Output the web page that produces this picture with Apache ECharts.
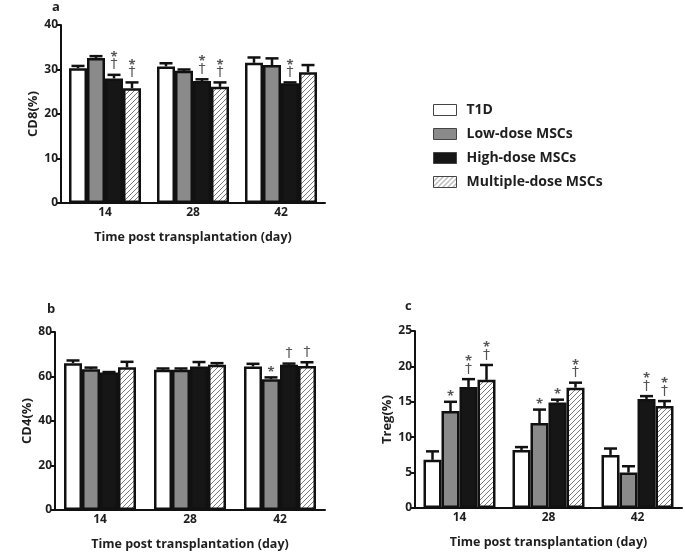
<!DOCTYPE html>
<html><head><meta charset="utf-8">
<script src="https://cdn.jsdelivr.net/npm/echarts@6/dist/echarts.min.js"></script>
<style>html,body{margin:0;padding:0;background:#fff}#c{width:685px;height:556px}</style>
</head><body><div id="c"></div>
<script>
// ---------- data ----------
var days = ['14', '28', '42'];
var groups = ['T1D', 'Low-dose MSCs', 'High-dose MSCs', 'Multiple-dose MSCs'];

// Panel a: CD8(%)
var cd8_T1D   = [30.3, 30.7, 31.5];
var cd8_Low   = [32.6, 29.7, 31.0];
var cd8_High  = [28.0, 27.4, 26.9];
var cd8_Multi = [25.8, 26.1, 29.4];
var cd8_T1D_err   = [30.8, 31.4, 32.7];
var cd8_Low_err   = [33.0, 30.0, 32.5];
var cd8_High_err  = [28.8, 27.8, 27.1];
var cd8_Multi_err = [27.1, 27.1, 31.0];
var cd8_marks = [['', '', '*†', '*†'], ['', '', '*†', '*†'], ['', '', '*†', '']];

// Panel b: CD4(%)
var cd4_T1D   = [66.0, 63.0, 64.5];
var cd4_Low   = [63.3, 63.0, 58.8];
var cd4_High  = [61.8, 64.5, 65.3];
var cd4_Multi = [64.2, 65.3, 64.7];
var cd4_T1D_err   = [67.2, 63.6, 65.7];
var cd4_Low_err   = [64.0, 63.6, 59.6];
var cd4_High_err  = [62.0, 66.5, 65.8];
var cd4_Multi_err = [66.6, 66.0, 66.4];
var cd4_marks = [['', '', '', ''], ['', '', '', ''], ['', '*', '†', '†']];

// Panel c: Treg(%)
var treg_T1D   = [6.8, 8.2, 7.5];
var treg_Low   = [13.7, 12.0, 5.0];
var treg_High  = [17.1, 14.9, 15.4];
var treg_Multi = [18.1, 17.0, 14.4];
var treg_T1D_err   = [8.0, 8.6, 8.4];
var treg_Low_err   = [15.0, 13.9, 5.9];
var treg_High_err  = [18.2, 15.3, 15.8];
var treg_Multi_err = [20.2, 17.7, 15.1];
var treg_marks = [['', '*', '*†', '*†'], ['', '*', '*', '*†'], ['', '', '*†', '*†']];

var axisTicks = { a: [0, 40, 10], b: [0, 80, 20], c: [0, 25, 5] };
var yNames = ['CD8(%)', 'CD4(%)', 'Treg(%)'];
var xName = 'Time post transplantation (day)';

// ---------- style ----------
var FONT = '"Open Sans"';
var TXT = '#1e1e1e';
var BAR_W = 18;

function hatch() {
  var cv = document.createElement('canvas');
  cv.width = 5; cv.height = 5;
  var g = cv.getContext('2d');
  g.fillStyle = '#fff'; g.fillRect(0, 0, 5, 5);
  g.strokeStyle = '#6a6a6a'; g.lineWidth = 0.9;
  g.beginPath();
  g.moveTo(-1, 6); g.lineTo(6, -1);
  g.moveTo(-1, 1); g.lineTo(1, -1);
  g.moveTo(4, 6); g.lineTo(6, 4);
  g.stroke();
  return { image: cv, repeat: 'repeat' };
}
var fills = ['#ffffff', '#8a8a8a', '#161616', hatch()];

var panels = [
  { grid: { left: 61, top: 25, width: 264, height: 178 }, t: axisTicks.a,
    vals: [cd8_T1D, cd8_Low, cd8_High, cd8_Multi], errs: [cd8_T1D_err, cd8_Low_err, cd8_High_err, cd8_Multi_err], marks: cd8_marks },
  { grid: { left: 55, top: 332, width: 270, height: 178 }, t: axisTicks.b,
    vals: [cd4_T1D, cd4_Low, cd4_High, cd4_Multi], errs: [cd4_T1D_err, cd4_Low_err, cd4_High_err, cd4_Multi_err], marks: cd4_marks },
  { grid: { left: 415, top: 331, width: 267, height: 177 }, t: axisTicks.c,
    vals: [treg_T1D, treg_Low, treg_High, treg_Multi], errs: [treg_T1D_err, treg_Low_err, treg_High_err, treg_Multi_err], marks: treg_marks }
];

var grids = [], xAxes = [], yAxes = [], series = [];
panels.forEach(function (p, pi) {
  grids.push(p.grid);
  xAxes.push({
    type: 'category', gridIndex: pi, data: days,
    axisLine: { lineStyle: { color: '#111', width: 2 } },
    axisTick: { show: false },
    axisLabel: { color: TXT, fontFamily: FONT, fontWeight: 'bold', fontSize: 12, margin: 4 },
    name: xName, nameLocation: 'middle', nameGap: 28,
    nameTextStyle: { color: TXT, fontFamily: FONT, fontWeight: 'bold', fontSize: 12.5 }
  });
  yAxes.push({
    type: 'value', gridIndex: pi, min: p.t[0], max: p.t[1], interval: p.t[2],
    splitLine: { show: false },
    axisLine: { show: true, lineStyle: { color: '#111', width: 2 } },
    axisTick: { show: true, length: 5, lineStyle: { width: 2, color: '#111' } },
    axisLabel: { color: TXT, fontFamily: FONT, fontWeight: 'bold', fontSize: 12, margin: 3 },
    name: yNames[pi], nameLocation: 'middle', nameGap: 21, nameRotate: 90,
    nameTextStyle: { color: TXT, fontFamily: FONT, fontWeight: 'bold', fontSize: 13 }
  });
  groups.forEach(function (gname, gi) {
    series.push({
      type: 'bar', name: gname, xAxisIndex: pi, yAxisIndex: pi,
      data: p.vals[gi], barWidth: BAR_W, barGap: '0%',
      itemStyle: { color: fills[gi], borderColor: '#111', borderWidth: 2.5 },
      z: 2
    });
  });
  var errData = [];
  for (var ci = 0; ci < days.length; ci++) {
    for (var gi = 0; gi < groups.length; gi++) {
      errData.push([ci, gi, p.vals[gi][ci], p.errs[gi][ci], p.marks[ci][gi]]);
    }
  }
  series.push({
    type: 'custom', xAxisIndex: pi, yAxisIndex: pi, z: 3, silent: true,
    data: errData,
    encode: { x: 0, y: 3 },
    renderItem: function (params, api) {
      var ci = api.value(0), gi = api.value(1);
      var item = errData[params.dataIndex];
      var top = api.coord([ci, item[2]]);
      var et = api.coord([ci, item[3]]);
      var x = top[0] + (gi - 1.5) * BAR_W;
      var children = [];
      if (et[1] < top[1] - 0.5) {
        children.push({ type: 'line', shape: { x1: x, y1: top[1], x2: x, y2: et[1] }, style: { stroke: '#111', lineWidth: 2.5 } });
      }
      children.push({ type: 'line', shape: { x1: x - 6.5, y1: et[1], x2: x + 6.5, y2: et[1] }, style: { stroke: '#111', lineWidth: 2.5 } });
      var mk = item[4];
      var y = et[1] - 3;
      if (mk.indexOf('†') >= 0) {
        children.push({ type: 'text', x: x, y: y, style: { text: '†', fill: '#555', font: 'normal 14px "DejaVu Sans"', align: 'center', verticalAlign: 'bottom' } });
        y -= 12;
      }
      if (mk.indexOf('*') >= 0) {
        children.push({ type: 'text', x: x, y: y + 4, style: { text: '*', fill: '#555', font: 'bold 13px ' + FONT, align: 'center', verticalAlign: 'bottom' } });
      }
      return { type: 'group', children: children };
    }
  });
});

var chart = echarts.init(document.getElementById('c'), null, { renderer: 'canvas' });
chart.setOption({
  animation: false,
  backgroundColor: '#fff',
  grid: grids, xAxis: xAxes, yAxis: yAxes, series: series,
  legend: {
    data: groups, orient: 'vertical', left: 428, top: 98,
    icon: 'rect', itemWidth: 23, itemHeight: 11, itemGap: 10,
    itemStyle: { borderWidth: 1, borderColor: '#444' },
    textStyle: { color: TXT, fontFamily: FONT, fontWeight: 'bold', fontSize: 14, padding: [0, 0, 0, 5] }
  },
  graphic: [
    { type: 'text', left: 52, top: 1, style: { text: 'a', fill: TXT, font: 'bold 13px ' + FONT } },
    { type: 'text', left: 47, top: 303, style: { text: 'b', fill: TXT, font: 'bold 13px ' + FONT } },
    { type: 'text', left: 405, top: 300, style: { text: 'c', fill: TXT, font: 'bold 13px ' + FONT } }
  ]
});
</script>
</body></html>
